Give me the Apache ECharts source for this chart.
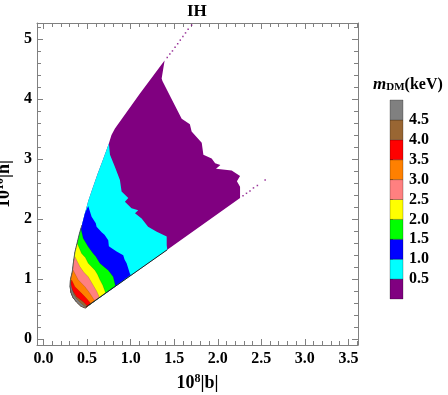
<!DOCTYPE html>
<html>
<head>
<meta charset="utf-8">
<script src="https://cdn.jsdelivr.net/npm/echarts@6/dist/echarts.min.js"></script>
<style>
html, body { margin: 0; padding: 0; background: #fff; }
#main { width: 448px; height: 395px; }
</style>
</head>
<body>
<div id="main"></div>
<script>
// tick labels
const xMajor = [0, 0.5, 1, 1.5, 2, 2.5, 3, 3.5];
const yMajor = [0, 1, 2, 3, 4, 5];
const legendLevels = [0.5, 1, 1.5, 2, 2.5, 3, 3.5, 4, 4.5];

// m_DM bands, lowest first
const bandColors = ["#800080", "#00ffff", "#0000ff", "#00ff00", "#ffff00",
  "#ff8080", "#ff8000", "#ff0000", "#996633", "#808080"];

// outer left edge of the allowed region, from the tip upward
const leftEdge = [
  [0.48, 0.52], [0.43, 0.55], [0.38, 0.62], [0.34, 0.69], [0.315, 0.78],
  [0.305, 0.88], [0.31, 1.0], [0.33, 1.12], [0.345, 1.3], [0.36, 1.45],
  [0.385, 1.6], [0.41, 1.75], [0.44, 1.9], [0.475, 2.1], [0.513, 2.3],
  [0.56, 2.5], [0.62, 2.75], [0.685, 3.0], [0.75, 3.26], [0.78, 3.4],
  [0.82, 3.51], [1.107, 4.09], [1.383, 4.63]
];
// upper-right edge of purple, top to bottom
const purpleEdge = [
  [1.39, 4.64], [1.356, 4.34], [1.365, 4.3], [1.47, 4.0], [1.586, 3.67],
  [1.68, 3.58], [1.7, 3.46], [1.816, 3.27], [1.835, 3.07], [1.93, 3.01],
  [1.97, 2.93], [2.03, 2.9], [1.98, 2.84], [2.16, 2.81], [2.256, 2.72],
  [2.22, 2.63], [2.256, 2.54], [2.256, 2.35]
];
// band boundaries (level >= value), from left edge to lower edge
const cyanEdge = [
  [0.75, 3.26], [0.763, 3.07], [0.82, 2.87], [0.877, 2.65], [0.896, 2.46],
  [0.973, 2.35], [0.934, 2.29], [1.01, 2.18], [1.087, 2.15], [1.05, 2.1],
  [1.126, 2.01], [1.2, 1.875], [1.3, 1.79], [1.414, 1.71], [1.414, 1.57],
  [1.42, 1.49]
];
const blueEdge = [
  [0.513, 2.22], [0.552, 2.04], [0.6, 1.93], [0.609, 1.875], [0.667, 1.78],
  [0.7, 1.74], [0.743, 1.65], [0.75, 1.55], [0.8, 1.5], [0.839, 1.46],
  [0.915, 1.4], [0.93, 1.33], [0.954, 1.265], [0.99, 1.1], [1.0, 1.07]
];
const greenEdge = [
  [0.429, 1.85], [0.455, 1.68], [0.513, 1.54], [0.57, 1.43], [0.6, 1.38],
  [0.647, 1.265], [0.7, 1.2], [0.743, 1.15], [0.8, 1.04], [0.825, 0.89]
];
const yellowEdge = [
  [0.386, 1.6], [0.437, 1.43], [0.48, 1.36], [0.513, 1.265], [0.59, 1.15],
  [0.62, 1.08], [0.647, 0.99], [0.68, 0.9], [0.712, 0.774]
];
const pinkEdge = [
  [0.36, 1.375], [0.417, 1.21], [0.46, 1.12], [0.513, 1.04], [0.57, 0.9],
  [0.61, 0.8], [0.64, 0.703]
];
const orangeEdge = [
  [0.34, 1.15], [0.398, 0.99], [0.475, 0.875], [0.532, 0.765], [0.57, 0.68],
  [0.585, 0.647]
];
const redEdge = [
  [0.322, 0.99], [0.36, 0.875], [0.437, 0.765], [0.494, 0.68], [0.54, 0.6]
];
const brownEdge = [
  [0.314, 0.86], [0.379, 0.71], [0.455, 0.626], [0.5, 0.56]
];
const grayEdge = [
  [0.305, 0.98], [0.325, 0.85], [0.345, 0.75], [0.38, 0.67], [0.43, 0.6],
  [0.47, 0.55], [0.49, 0.54]
];
// stray sample points along the two edges
const topDots = [
  [1.42, 4.69], [1.45, 4.75], [1.48, 4.8], [1.51, 4.86], [1.54, 4.92],
  [1.57, 4.98], [1.6, 5.04], [1.63, 5.1], [1.66, 5.16], [1.7, 5.23]
];
const lowDots = [
  [2.29, 2.39], [2.33, 2.43], [2.37, 2.47], [2.41, 2.52], [2.455, 2.56], [2.544, 2.65]
];
const lowerEdgeLine = [[0.49, 0.54], [1.42, 1.49]];

const X_MIN = -0.075, X_MAX = 3.61, Y_MIN = -0.095, Y_MAX = 5.265;
const FRAME = "#808080";
const SERIF = "'Liberation Serif', 'Times New Roman', serif";

const xMinor = [];
for (let i = 0; i <= 36; i++) xMinor.push(i / 10);
const yMinor = [];
for (let i = 0; i <= 26; i++) yMinor.push(i / 5);

function bandPoly(edge) {
  const start = edge[0];
  const part = leftEdge.filter(p => p[1] < start[1]);
  return part.concat(edge);
}
const purplePoly = leftEdge.concat(purpleEdge);
const leftDark = leftEdge.filter(p => p[1] > 0.6 && p[1] < 1.95);

function polySeries(pts, color, stroke) {
  return {
    type: "custom",
    xAxisIndex: 0,
    yAxisIndex: 0,
    silent: true,
    data: pts,
    encode: { x: 0, y: 1 },
    renderItem: function (params, api) {
      if (params.dataIndex !== 0) return null;
      return {
        type: "polygon",
        shape: { points: pts.map(p => api.coord(p)) },
        style: { fill: color, stroke: stroke || null, lineWidth: 0.7 }
      };
    }
  };
}

function xAx(pos, ticks, len, withLabels, withLine) {
  return {
    type: "value", gridIndex: 0, position: pos, min: X_MIN, max: X_MAX,
    axisLine: { show: withLine, onZero: false, lineStyle: { color: FRAME, width: 1 } },
    axisTick: { show: true, inside: true, length: len, customValues: ticks, lineStyle: { color: FRAME } },
    axisLabel: withLabels ? {
      show: true, customValues: xMajor, margin: 6, color: "#000",
      fontFamily: SERIF, fontWeight: "bold", fontSize: 16,
      formatter: v => v.toFixed(1)
    } : { show: false },
    splitLine: { show: false }
  };
}
function yAx(pos, ticks, len, withLabels, withLine) {
  return {
    type: "value", gridIndex: 0, position: pos, min: Y_MIN, max: Y_MAX,
    axisLine: { show: withLine, onZero: false, lineStyle: { color: FRAME, width: 1 } },
    axisTick: { show: true, inside: true, length: len, customValues: ticks, lineStyle: { color: FRAME } },
    axisLabel: withLabels ? {
      show: true, customValues: yMajor, margin: 5, color: "#000",
      fontFamily: SERIF, fontWeight: "bold", fontSize: 16,
      formatter: v => String(v)
    } : { show: false },
    splitLine: { show: false }
  };
}

const nameRich = {
  n: { fontFamily: SERIF, fontWeight: "bold", fontSize: 18, color: "#000" },
  sup: { fontFamily: SERIF, fontWeight: "bold", fontSize: 12, color: "#000", padding: [0, 0, 9, 0] }
};

const xAxes = [
  xAx("bottom", xMajor, 6, true, true),
  xAx("bottom", xMinor, 4, false, false),
  xAx("top", xMajor, 6, false, true),
  xAx("top", xMinor, 4, false, false)
];
xAxes[0].name = "{n|10}{sup|8}{n||b|}";
xAxes[0].nameLocation = "middle";
xAxes[0].nameGap = 28;
xAxes[0].nameTextStyle = { rich: nameRich };

const yAxes = [
  yAx("left", yMajor, 6, true, true),
  yAx("left", yMinor, 4, false, false),
  yAx("right", yMajor, 6, false, true),
  yAx("right", yMinor, 4, false, false)
];
yAxes[0].name = "{n|10}{sup|10}{n||h|}";
yAxes[0].nameLocation = "middle";
yAxes[0].nameGap = 19;
yAxes[0].nameTextStyle = { rich: nameRich };

// colorbar axes
xAxes.push({ type: "value", gridIndex: 1, min: 0, max: 1, show: false });
yAxes.push({
  type: "value", gridIndex: 1, position: "right", min: 0, max: 5,
  axisLine: { show: false },
  axisTick: { show: true, inside: false, length: 3, customValues: legendLevels, lineStyle: { color: "#333" } },
  axisLabel: {
    show: true, customValues: legendLevels, margin: 6, color: "#000",
    fontFamily: SERIF, fontWeight: "bold", fontSize: 16,
    formatter: v => v.toFixed(1)
  },
  splitLine: { show: false }
});

const legendData = bandColors.map((c, i) => [i * 0.5, i * 0.5 + 0.5]);

const series = [
  polySeries(purplePoly, bandColors[0]),
  polySeries(bandPoly(cyanEdge), bandColors[1]),
  polySeries(bandPoly(blueEdge), bandColors[2]),
  polySeries(bandPoly(greenEdge), bandColors[3], "rgba(0,0,0,0.2)"),
  polySeries(bandPoly(yellowEdge), bandColors[4], "rgba(0,0,0,0.2)"),
  polySeries(bandPoly(pinkEdge), bandColors[5], "rgba(0,0,0,0.2)"),
  polySeries(bandPoly(orangeEdge), bandColors[6], "rgba(0,0,0,0.2)"),
  polySeries(bandPoly(redEdge), bandColors[7], "rgba(0,0,0,0.2)"),
  polySeries(bandPoly(brownEdge), bandColors[8], "rgba(0,0,0,0.2)"),
  polySeries(bandPoly(grayEdge), bandColors[9], "rgba(0,0,0,0.2)"),
  {
    type: "line", xAxisIndex: 0, yAxisIndex: 0, data: lowerEdgeLine,
    showSymbol: false, silent: true, lineStyle: { color: "#222", width: 1 }
  },
  {
    type: "line", xAxisIndex: 0, yAxisIndex: 0, data: leftDark,
    showSymbol: false, silent: true, lineStyle: { color: "#555", width: 0.8 }
  },
  {
    type: "scatter", xAxisIndex: 0, yAxisIndex: 0, data: topDots.concat(lowDots),
    symbol: "rect", symbolSize: 1.5, silent: true, itemStyle: { color: "#800080" }
  },
  {
    type: "custom", xAxisIndex: 4, yAxisIndex: 4, silent: true,
    data: legendData,
    encode: { y: [0, 1] },
    renderItem: function (params, api) {
      const lo = api.value(0), hi = api.value(1);
      const p0 = api.coord([0, hi]);
      const p1 = api.coord([1, lo]);
      return {
        type: "rect",
        shape: { x: p0[0], y: p0[1], width: p1[0] - p0[0], height: p1[1] - p0[1] },
        style: { fill: bandColors[params.dataIndex], stroke: "rgba(0,0,0,0.25)", lineWidth: 1 }
      };
    }
  }
];

const chart = echarts.init(document.getElementById("main"), null, { renderer: "canvas" });
chart.setOption({
  animation: false,
  backgroundColor: "#fff",
  title: [
    {
      text: "IH", left: 187, top: 3, padding: 0,
      textStyle: { fontFamily: SERIF, fontWeight: "bold", fontSize: 17, color: "#000" }
    },
    {
      text: "{m|m}{sub|DM}{n|(keV)}", left: 373, top: 73, padding: 0,
      textStyle: {
        rich: {
          m: { fontFamily: SERIF, fontWeight: "bold", fontStyle: "italic", fontSize: 17, color: "#000", lineHeight: 20, verticalAlign: "bottom" },
          sub: { fontFamily: SERIF, fontWeight: "bold", fontSize: 11, color: "#000", lineHeight: 14, verticalAlign: "bottom" },
          n: { fontFamily: SERIF, fontWeight: "bold", fontSize: 16, color: "#000", lineHeight: 20, verticalAlign: "bottom" }
        }
      }
    }
  ],
  grid: [
    { left: 37, top: 23, width: 321, height: 322, outerBoundsMode: "none", containLabel: false },
    { left: 390, top: 100, width: 13, height: 199, outerBoundsMode: "none", containLabel: false }
  ],
  xAxis: xAxes,
  yAxis: yAxes,
  series: series
});
</script>
</body>
</html>
